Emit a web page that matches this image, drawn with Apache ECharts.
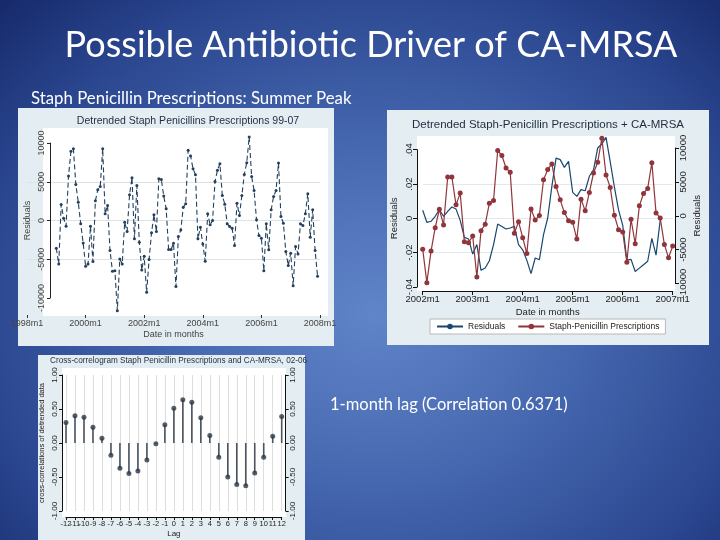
<!DOCTYPE html>
<html lang="en">
<head>
    <meta charset="UTF-8">
    <title>Possible Antibiotic Driver of CA-MRSA</title>
    <script src="https://cdn.jsdelivr.net/npm/echarts@6/dist/echarts.min.js"></script>
    <style>
        html, body { margin: 0; padding: 0; }
        #main {
            width: 720px;
            height: 540px;
            background: radial-gradient(ellipse at 52% 58%, #6185c9 0%, #4466ae 40%, #2a468f 75%, #16296a 100%);
        }
    </style>
</head>
<body>
    <div id="main"></div>
    <script>
        // chart 1: detrended staph penicillin residuals, monthly 1999m1 - 2007m12
        var detrended = [
            -3580, -5600, 2070, 300, -730, 5730, 8920, 9270, 4650, 2370,
            -430, -2890, -5900, -5600, -730, -5300, 2540, 3970, 4400, 9270,
            860, 1940, -3880, -6550, -6470, -11640, -4960, -5600, -220, -1420,
            3320, 5520, -2370, 4530, -2800, -6380, -4610, -9270, -5040, -1590,
            730, -1420, 5390, 5300, 3150, 1510, -3750, -3750, -2930, -8530,
            -2070, -1210, 1720, 2160, 9050, 8320, 6680, 5910, -2370, -860,
            -3020, -5260, 860, -560, 0, 5040, 6470, 7330, 3230, 2110,
            -430, -780, -990, -3230, 2240, 650, 3230, 5950, 7460, 10780,
            5690, 3880, 90, -1940, -2280, -6470, -430, -3790, 1380, 3100,
            3880, 7410, 520, -340, -4010, -5820, -4220, -8410, -3360, -4310,
            -430, -650, 860, 3450, -2160, 1380, -3880, -7200
        ];
        var startYear1 = 1998;   // axis origin, data start 1999m1

        // chart 2: residuals (CA-MRSA) and prescriptions, monthly from 2002m1
        var residuals = [
            0.0047, -0.0023, -0.0017, 0.0012, 0.0050, 0.0012, 0.0041, 0.0066, 0.0054, -0.0012,
            -0.0111, -0.0120, -0.0208, -0.0153, -0.0303, -0.0289, -0.0247, -0.0153, -0.0033, -0.0047,
            -0.0062, -0.0056, -0.0047, -0.0153, -0.0183, -0.0245, -0.0322, -0.0231, -0.0241, -0.0095,
            0.0002, 0.0186, 0.0351, 0.0342, 0.0297, 0.0332, 0.0151, 0.0128, 0.0167, 0.0161,
            0.0245, 0.0283, 0.0410, 0.0433, 0.0472, 0.0330, 0.0184, 0.0049, -0.0039, -0.0243,
            -0.0239, -0.0310, -0.0290, -0.0270, -0.0250, -0.0117, -0.0214, -0.0010
        ];
        var prescriptions = [
            -4930, -9880, -5220, -1760, 960, -1360, 5720, 5720, 1610, 3340,
            -3840, -3980, -2990, -9030, -2200, -1260, 1860, 2250, 9630, 8890,
            7050, 6410, -2600, -870, -3240, -5570, 1010, -620, 20, 5320,
            6810, 7650, 4330, 2350, 470, -720, -970, -3440, 2450, 720,
            3440, 6310, 7900, 11440, 6010, 4180, 70, -2060, -2400, -6860,
            -520, -4130, 1460, 3290, 4030, 7840, 420, -320, -4230, -6210,
            -4480
        ];
        var startYear2 = 2002;

        // chart 3: cross-correlogram
        var lags = ['-12', '-11', '-10', '-9', '-8', '-7', '-6', '-5', '-4', '-3', '-2', '-1', '0',
            '1', '2', '3', '4', '5', '6', '7', '8', '9', '10', '11', '12'];
        var xcorr = [0.30, 0.40, 0.38, 0.23, 0.07, -0.18, -0.37, -0.45, -0.41, -0.25, -0.01, 0.27, 0.51,
            0.6371, 0.60, 0.37, 0.11, -0.21, -0.50, -0.61, -0.63, -0.44, -0.21, 0.10, 0.39];

        var stataFont = 'Liberation Sans';
        var panelBg = '#e4edf2';
        var navy = '#1a476f';
        var maroon = '#90353b';
        var labelColor = '#222';

        function monthLabel(base) {
            return function (v) { return (base + Math.floor(v / 12)) + 'm1'; };
        }
        function plain(v) { return String(v); }

        var myChart = echarts.init(document.getElementById('main'));

        var option = {
            backgroundColor: 'transparent',
            animation: false,
            textStyle: { fontFamily: stataFont },
            graphic: [
                // panels
                { type: 'rect', shape: { x: 18, y: 108, width: 316, height: 238 }, style: { fill: panelBg } },
                { type: 'rect', shape: { x: 43, y: 128, width: 285, height: 188 }, style: { fill: '#fff' } },
                { type: 'rect', shape: { x: 387, y: 110, width: 322, height: 235 }, style: { fill: panelBg } },
                { type: 'rect', shape: { x: 417, y: 136, width: 258, height: 155 }, style: { fill: '#fff' } },
                { type: 'rect', shape: { x: 38, y: 355, width: 267, height: 185 }, style: { fill: panelBg } },
                { type: 'rect', shape: { x: 62, y: 368, width: 224, height: 149 }, style: { fill: '#fff' } },
                // slide texts
                {
                    type: 'text', x: 371, y: 45,
                    style: { text: 'Possible Antibiotic Driver of CA-MRSA', fill: '#fff', font: '36px Lato', textAlign: 'center', textVerticalAlign: 'middle' }
                },
                {
                    type: 'text', x: 31, y: 99,
                    style: { text: 'Staph Penicillin Prescriptions: Summer Peak', fill: '#fff', font: '16.8px Lato', textVerticalAlign: 'middle' }
                },
                {
                    type: 'text', x: 330, y: 405,
                    style: { text: '1-month lag (Correlation 0.6371)', fill: '#fff', font: '16.5px Lato', textVerticalAlign: 'middle' }
                },
                // chart titles
                {
                    type: 'text', x: 188, y: 121,
                    style: { text: 'Detrended Staph Penicillins Prescriptions 99-07', fill: '#1e2b40', font: '10.5px "Liberation Sans"', textAlign: 'center', textVerticalAlign: 'middle' }
                },
                {
                    type: 'text', x: 548, y: 125,
                    style: { text: 'Detrended Staph-Penicillin Prescriptions + CA-MRSA', fill: '#1e2b40', font: '11.5px "Liberation Sans"', textAlign: 'center', textVerticalAlign: 'middle' }
                },
                {
                    type: 'text', x: 50, y: 361,
                    style: { text: 'Cross-correlogram Staph Penicillin Prescriptions and CA-MRSA, 02-06', fill: '#1e2b40', font: '8.2px "Liberation Sans"', textVerticalAlign: 'middle' }
                }
            ],
            legend: {
                left: 430, top: 319,
                orient: 'horizontal',
                backgroundColor: '#fff',
                borderColor: '#b8b8b8', borderWidth: 1,
                padding: [3, 6],
                itemWidth: 26, itemHeight: 7, itemGap: 12,
                textStyle: { fontSize: 8.5, color: labelColor, fontFamily: stataFont },
                data: ['Residuals', 'Staph-Penicillin Prescriptions']
            },
            grid: [
                { left: 27, right: 400, top: 143, height: 155 },
                { left: 422.7, right: 47.3, top: 149.7, height: 137.3 },
                { left: 422.7, right: 47.3, top: 148, height: 135.5 },
                { left: 66, right: 438.3, top: 375, height: 136 }
            ],
            xAxis: [
                {
                    gridIndex: 0, type: 'value', min: 0, max: 120, interval: 24, offset: 17,
                    axisLine: { show: false, onZero: false },
                    axisTick: { show: true, length: 3, lineStyle: { color: '#333' } },
                    splitLine: { show: false },
                    axisLabel: { formatter: monthLabel(startYear1), fontSize: 9, color: '#444', margin: 4, showMinLabel: true, showMaxLabel: true },
                    name: 'Date in months', nameLocation: 'middle', nameGap: 15,
                    nameTextStyle: { fontSize: 9, color: '#444' }
                },
                {
                    gridIndex: 1, type: 'value', min: 0, max: 60, interval: 12, offset: 4,
                    axisLine: { show: true, onZero: false, lineStyle: { color: '#111' } },
                    axisTick: { show: true, length: 4, lineStyle: { color: '#111' } },
                    splitLine: { show: false },
                    axisLabel: { formatter: monthLabel(startYear2), fontSize: 9.5, color: labelColor, margin: 3 },
                    name: 'Date in months', nameLocation: 'middle', nameGap: 16,
                    nameTextStyle: { fontSize: 9.5, color: labelColor }
                },
                {
                    gridIndex: 2, type: 'value', min: 0, max: 60, show: false
                },
                {
                    gridIndex: 3, type: 'category', data: lags, boundaryGap: false, offset: 6,
                    axisLine: { show: true, onZero: false, lineStyle: { color: '#111' } },
                    axisTick: { show: true, length: 3, interval: 0, lineStyle: { color: '#111' } },
                    splitLine: { show: true, interval: 0, lineStyle: { color: '#dedede', width: 1 } },
                    axisLabel: { fontSize: 7.5, color: labelColor, margin: 3, interval: 0 },
                    name: 'Lag', nameLocation: 'middle', nameGap: 13,
                    nameTextStyle: { fontSize: 8, color: labelColor }
                }
            ],
            yAxis: [
                {
                    gridIndex: 0, type: 'value', min: -10000, max: 10000, interval: 5000, offset: -23,
                    axisLine: { show: true, onZero: false, lineStyle: { color: '#222' } },
                    axisTick: { show: true, length: 3, lineStyle: { color: '#222' } },
                    splitLine: { show: true, lineStyle: { color: ['rgba(0,0,0,0)', '#dde4e8', '#dde4e8', '#dde4e8', 'rgba(0,0,0,0)'] } },
                    axisLabel: { rotate: 90, fontSize: 9, color: '#444', margin: 4, formatter: plain },
                    name: 'Residuals', nameLocation: 'middle', nameRotate: 90, nameGap: 18,
                    nameTextStyle: { fontSize: 9, color: '#444' }
                },
                {
                    gridIndex: 1, type: 'value', min: -0.04, max: 0.04, interval: 0.02, offset: 5.7,
                    axisLine: { show: true, onZero: false, lineStyle: { color: '#111' } },
                    axisTick: { show: true, length: 4, lineStyle: { color: '#111' } },
                    splitLine: { show: true, lineStyle: { color: ['rgba(0,0,0,0)', '#e3e8ec', '#e3e8ec', '#e3e8ec', 'rgba(0,0,0,0)'] } },
                    axisLabel: {
                        rotate: 90, fontSize: 9.5, color: labelColor, margin: 3,
                        formatter: function (v) {
                            if (Math.abs(v) < 1e-9) return '0';
                            return (v < 0 ? '-' : '') + Math.abs(v).toFixed(2).replace(/^0/, '');
                        }
                    },
                    name: 'Residuals', nameLocation: 'middle', nameRotate: 90, nameGap: 18,
                    nameTextStyle: { fontSize: 9.5, color: labelColor }
                },
                {
                    gridIndex: 2, type: 'value', position: 'right', min: -10000, max: 10000, interval: 5000, offset: 2.3,
                    axisLine: { show: true, onZero: false, lineStyle: { color: '#111' } },
                    axisTick: { show: true, length: 4, lineStyle: { color: '#111' } },
                    splitLine: { show: false },
                    axisLabel: { rotate: 90, fontSize: 9.5, color: labelColor, margin: 3, formatter: plain },
                    name: 'Residuals', nameLocation: 'middle', nameRotate: 90, nameGap: 17,
                    nameTextStyle: { fontSize: 9.5, color: labelColor }
                },
                {
                    gridIndex: 3, type: 'value', min: -1, max: 1, interval: 0.5, offset: 4,
                    axisLine: { show: true, onZero: false, lineStyle: { color: '#111' } },
                    axisTick: { show: true, length: 3, lineStyle: { color: '#111' } },
                    splitLine: { show: false },
                    axisLabel: { rotate: 90, fontSize: 8, color: labelColor, margin: 3, formatter: function (v) { return v.toFixed(2); } },
                    name: 'cross-correlations of detrended data', nameLocation: 'middle', nameRotate: 90, nameGap: 16,
                    nameTextStyle: { fontSize: 7.5, color: labelColor }
                },
                {
                    gridIndex: 3, type: 'value', position: 'right', min: -1, max: 1, interval: 0.5, offset: 4,
                    axisLine: { show: true, onZero: false, lineStyle: { color: '#111' } },
                    axisTick: { show: true, length: 3, lineStyle: { color: '#111' } },
                    splitLine: { show: false },
                    axisLabel: { rotate: 90, fontSize: 8, color: labelColor, margin: 3, formatter: function (v) { return v.toFixed(2); } }
                }
            ],
            series: [
                {
                    name: 'Detrended', type: 'line', xAxisIndex: 0, yAxisIndex: 0, clip: false,
                    symbol: 'circle', symbolSize: 3,
                    itemStyle: { color: '#24405c' },
                    lineStyle: { color: '#24405c', width: 1.1, type: [5, 3] },
                    data: detrended.map(function (v, i) { return [12 + i, v]; })
                },
                {
                    name: 'Residuals', type: 'line', xAxisIndex: 1, yAxisIndex: 1, clip: false,
                    symbol: 'none',
                    itemStyle: { color: navy },
                    lineStyle: { color: navy, width: 1.2 },
                    data: residuals.map(function (v, i) { return [i, v]; })
                },
                {
                    name: 'Staph-Penicillin Prescriptions', type: 'line', xAxisIndex: 2, yAxisIndex: 2, clip: false,
                    symbol: 'circle', symbolSize: 5,
                    itemStyle: { color: maroon },
                    lineStyle: { color: maroon, width: 1.2 },
                    data: prescriptions.map(function (v, i) { return [i, v]; })
                },
                {
                    name: 'stems', type: 'bar', xAxisIndex: 3, yAxisIndex: 3, barWidth: 1.6,
                    itemStyle: { color: '#4a5560' },
                    data: xcorr
                },
                {
                    name: 'dots', type: 'scatter', xAxisIndex: 3, yAxisIndex: 3, symbolSize: 5,
                    itemStyle: { color: '#2a3744' },
                    data: xcorr
                }
            ]
        };

        myChart.setOption(option);
    </script>
</body>
</html>
